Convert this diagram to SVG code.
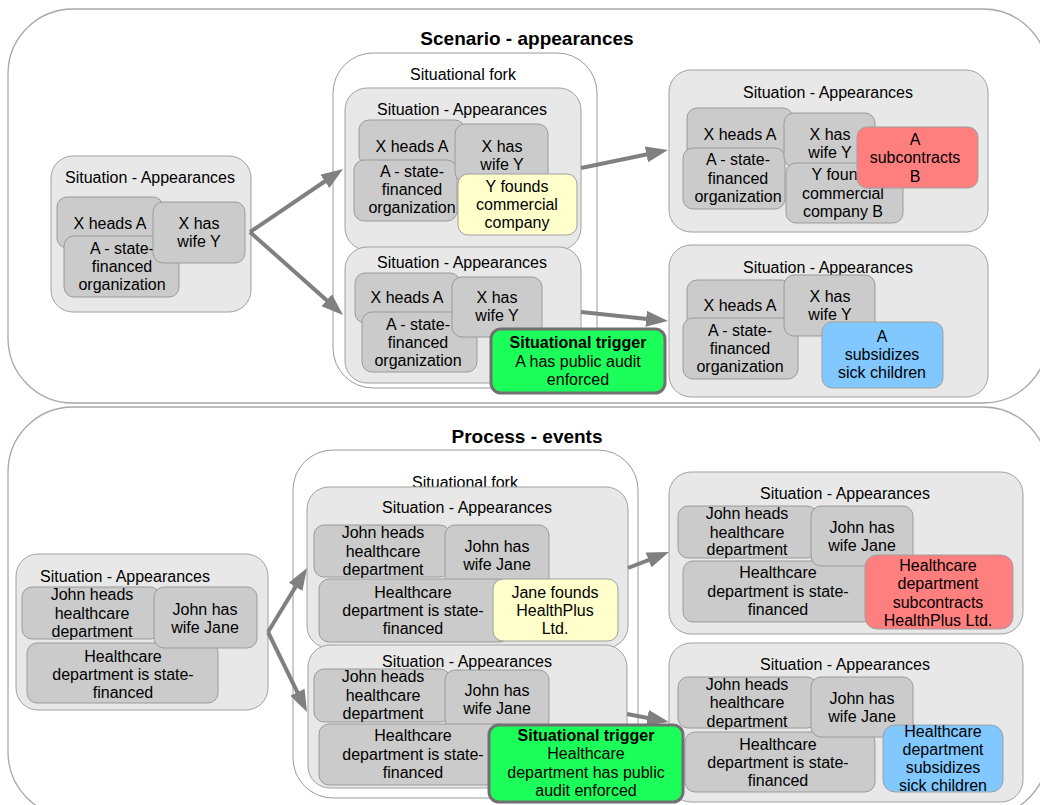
<svg xmlns="http://www.w3.org/2000/svg" width="1040" height="805" viewBox="0 0 1040 805">
<defs>
<style>
.big{fill:#fff;stroke:#a8a8a8;stroke-width:1.3}
.fork{fill:#fff;stroke:#9a9a9a;stroke-width:1}
.sit{fill:#e8e8e8;stroke:#a0a0a0;stroke-width:1}
.fact{fill:#cbcbcb;stroke:#9a9a9a;stroke-width:1}
.yel{fill:#ffffcc;stroke:#a0a0a0;stroke-width:1}
.red{fill:#ff7f7f;stroke:#a0a0a0;stroke-width:1}
.blue{fill:#80c8ff;stroke:#a0a0a0;stroke-width:1}
.trig{fill:#1cff5a;stroke:#707070;stroke-width:3}
.conn line{stroke:#808080;stroke-width:4;marker-end:url(#ah)}
text{font-family:"Liberation Sans",Arial,Helvetica,sans-serif;font-size:16px;fill:#000;text-anchor:middle}
.title{font-weight:bold;font-size:19px}
.b{font-weight:bold}
</style>
<marker id="ah" markerWidth="22" markerHeight="16" refX="6" refY="8" orient="auto" markerUnits="userSpaceOnUse">
<path d="M0,0 L22,8 L0,16 Z" fill="#808080"/>
</marker>
</defs>

<!-- Top container -->
<g id="scenario">
<rect class="big" x="8" y="9" width="1040" height="394" rx="65"/>
<text class="title" x="527" y="45">Scenario - appearances</text>
</g>
<!-- Bottom container -->
<g id="process">
<rect class="big" x="8" y="407" width="1040" height="410" rx="65"/>
<text class="title" x="527" y="443">Process - events</text>
</g>

<!-- TOP: left situation -->
<g id="s-left">
<rect class="sit" x="51" y="156" width="200" height="156" rx="22"/>
<text x="150" y="183">Situation - Appearances</text>
<rect class="fact" x="57" y="197" width="106" height="51" rx="10"/>
<text x="110" y="229">X heads A</text>
<rect class="fact" x="64" y="236" width="115" height="61" rx="10"/>
<text x="122" y="254">A - state-</text>
<text x="122" y="272">financed</text>
<text x="122" y="290">organization</text>
<rect class="fact" x="153" y="202" width="92" height="61" rx="10"/>
<text x="199" y="229">X has</text>
<text x="199" y="247">wife Y</text>
</g>

<!-- TOP: fork -->
<g id="fork-top">
<rect class="fork" x="333" y="53" width="264" height="335" rx="40"/>
<text x="463" y="80">Situational fork</text>
</g>
<g id="s-fork-top-1">
<rect class="sit" x="345" y="88" width="236" height="162" rx="22"/>
<text x="462" y="115">Situation - Appearances</text>
<rect class="fact" x="359" y="120" width="106" height="45" rx="10"/>
<text x="412" y="152">X heads A</text>
<rect class="fact" x="354" y="160" width="103" height="61" rx="10"/>
<text x="412" y="177">A - state-</text>
<text x="412" y="195">financed</text>
<text x="412" y="213">organization</text>
<rect class="fact" x="455" y="124" width="93" height="58" rx="10"/>
<text x="502" y="152">X has</text>
<text x="502" y="170">wife Y</text>
<rect class="yel" x="458" y="174" width="119" height="61" rx="10"/>
<text x="517" y="192">Y founds</text>
<text x="517" y="210">commercial</text>
<text x="517" y="228">company</text>
</g>
<g id="s-fork-top-2">
<rect class="sit" x="345" y="247" width="236" height="136" rx="22"/>
<text x="462" y="268">Situation - Appearances</text>
<rect class="fact" x="355" y="273" width="105" height="50" rx="10"/>
<text x="407" y="303">X heads A</text>
<rect class="fact" x="362" y="312" width="115" height="60" rx="10"/>
<text x="418" y="330">A - state-</text>
<text x="418" y="348">financed</text>
<text x="418" y="366">organization</text>
<rect class="fact" x="452" y="277" width="90" height="60" rx="10"/>
<text x="497" y="303">X has</text>
<text x="497" y="321">wife Y</text>
</g>

<!-- TOP: right situations -->
<g id="s-right-top-1">
<rect class="sit" x="669" y="70" width="319" height="162" rx="22"/>
<text x="828" y="98">Situation - Appearances</text>
<rect class="fact" x="687" y="108" width="106" height="52" rx="10"/>
<text x="740" y="140">X heads A</text>
<rect class="fact" x="683" y="148" width="102" height="61" rx="10"/>
<text x="738" y="165">A - state-</text>
<text x="738" y="184">financed</text>
<text x="738" y="202">organization</text>
<rect class="fact" x="784" y="113" width="91" height="54" rx="10"/>
<text x="830" y="140">X has</text>
<text x="830" y="158">wife Y</text>
<rect class="fact" x="786" y="163" width="117" height="60" rx="10"/>
<text x="843" y="180">Y founds</text>
<text x="843" y="199">commercial</text>
<text x="843" y="217">company B</text>
<rect class="red" x="857" y="127" width="121" height="61" rx="10"/>
<text x="915" y="145">A</text>
<text x="915" y="163">subcontracts</text>
<text x="915" y="182">B</text>
</g>
<g id="s-right-top-2">
<rect class="sit" x="669" y="245" width="319" height="152" rx="22"/>
<text x="828" y="273">Situation - Appearances</text>
<rect class="fact" x="687" y="280" width="105" height="50" rx="10"/>
<text x="740" y="311">X heads A</text>
<rect class="fact" x="683" y="318" width="115" height="61" rx="10"/>
<text x="740" y="336">A - state-</text>
<text x="740" y="354">financed</text>
<text x="740" y="372">organization</text>
<rect class="fact" x="784" y="275" width="91" height="61" rx="10"/>
<text x="830" y="302">X has</text>
<text x="830" y="320">wife Y</text>
<rect class="blue" x="822" y="322" width="121" height="66" rx="10"/>
<text x="882" y="342">A</text>
<text x="882" y="360">subsidizes</text>
<text x="882" y="378">sick children</text>
</g>

<!-- BOTTOM: left situation -->
<g id="p-left">
<rect class="sit" x="16" y="554" width="252" height="156" rx="22"/>
<text x="125" y="582">Situation - Appearances</text>
<rect class="fact" x="22" y="587" width="138" height="52" rx="10"/>
<text x="92" y="600">John heads</text>
<text x="92" y="619">healthcare</text>
<text x="92" y="637">department</text>
<rect class="fact" x="27" y="643" width="191" height="60" rx="10"/>
<text x="123" y="662">Healthcare</text>
<text x="123" y="680">department is state-</text>
<text x="123" y="698">financed</text>
<rect class="fact" x="154" y="587" width="103" height="61" rx="10"/>
<text x="205" y="615">John has</text>
<text x="205" y="633">wife Jane</text>
</g>

<!-- BOTTOM: fork -->
<g id="fork-bottom">
<rect class="fork" x="293" y="450" width="345" height="348" rx="40"/>
<text x="465" y="488">Situational fork</text>
</g>
<g id="p-fork-1">
<rect class="sit" x="307" y="487" width="321" height="161" rx="22"/>
<text x="467" y="513">Situation - Appearances</text>
<rect class="fact" x="314" y="525" width="136" height="52" rx="10"/>
<text x="383" y="538">John heads</text>
<text x="383" y="557">healthcare</text>
<text x="383" y="575">department</text>
<rect class="fact" x="445" y="525" width="104" height="62" rx="10"/>
<text x="497" y="552">John has</text>
<text x="497" y="570">wife Jane</text>
<rect class="fact" x="319" y="579" width="191" height="63" rx="10"/>
<text x="413" y="598">Healthcare</text>
<text x="413" y="616">department is state-</text>
<text x="413" y="634">financed</text>
<rect class="yel" x="493" y="579" width="125" height="62" rx="10"/>
<text x="555" y="598">Jane founds</text>
<text x="555" y="616">HealthPlus</text>
<text x="555" y="634">Ltd.</text>
</g>
<g id="p-fork-2">
<rect class="sit" x="308" y="645" width="319" height="143" rx="22"/>
<text x="467" y="667">Situation - Appearances</text>
<rect class="fact" x="314" y="669" width="136" height="53" rx="10"/>
<text x="383" y="682">John heads</text>
<text x="383" y="701">healthcare</text>
<text x="383" y="719">department</text>
<rect class="fact" x="445" y="670" width="104" height="60" rx="10"/>
<text x="497" y="696">John has</text>
<text x="497" y="714">wife Jane</text>
<rect class="fact" x="319" y="724" width="191" height="61" rx="10"/>
<text x="413" y="741">Healthcare</text>
<text x="413" y="760">department is state-</text>
<text x="413" y="778">financed</text>
</g>

<!-- BOTTOM: right situations -->
<g id="p-right-1">
<rect class="sit" x="669" y="472" width="354" height="162" rx="22"/>
<text x="845" y="499">Situation - Appearances</text>
<rect class="fact" x="678" y="506" width="139" height="52" rx="10"/>
<text x="747" y="519">John heads</text>
<text x="747" y="538">healthcare</text>
<text x="747" y="555">department</text>
<rect class="fact" x="683" y="561" width="190" height="61" rx="10"/>
<text x="778" y="578">Healthcare</text>
<text x="778" y="597">department is state-</text>
<text x="778" y="615">financed</text>
<rect class="fact" x="811" y="506" width="102" height="60" rx="10"/>
<text x="862" y="533">John has</text>
<text x="862" y="551">wife Jane</text>
<rect class="red" x="865" y="555" width="148" height="74" rx="12"/>
<text x="938" y="571">Healthcare</text>
<text x="938" y="589">department</text>
<text x="938" y="608">subcontracts</text>
<text x="938" y="626">HealthPlus Ltd.</text>
</g>
<g id="p-right-2">
<rect class="sit" x="669" y="643" width="354" height="159" rx="22"/>
<text x="845" y="670">Situation - Appearances</text>
<rect class="fact" x="678" y="677" width="139" height="51" rx="10"/>
<text x="747" y="690">John heads</text>
<text x="747" y="708">healthcare</text>
<text x="747" y="727">department</text>
<rect class="fact" x="685" y="732" width="190" height="60" rx="10"/>
<text x="778" y="750">Healthcare</text>
<text x="778" y="768">department is state-</text>
<text x="778" y="786">financed</text>
<rect class="fact" x="811" y="677" width="102" height="60" rx="10"/>
<text x="862" y="704">John has</text>
<text x="862" y="722">wife Jane</text>
<rect class="blue" x="883" y="725" width="120" height="67" rx="12"/>
<text x="943" y="737">Healthcare</text>
<text x="943" y="755">department</text>
<text x="943" y="773">subsidizes</text>
<text x="943" y="791">sick children</text>
</g>

<!-- Connectors -->
<g id="connectors" class="conn">
<line x1="250" y1="232" x2="329.8" y2="178"/>
<line x1="250" y1="232" x2="331.1" y2="304.3"/>
<line x1="581" y1="168" x2="652.3" y2="153.2"/>
<line x1="581" y1="312" x2="652.1" y2="319.4"/>
<line x1="268" y1="632" x2="298.7" y2="581.7"/>
<line x1="268" y1="632" x2="300" y2="697.6"/>
<line x1="628" y1="568" x2="654.1" y2="557.8"/>
<line x1="627" y1="714" x2="653.3" y2="719"/>
</g>

<!-- Triggers -->
<g id="trigger-top">
<rect class="trig" x="491" y="329" width="174" height="64" rx="10"/>
<text class="b" x="578" y="348">Situational trigger</text>
<text x="578" y="367">A has public audit</text>
<text x="578" y="385">enforced</text>
</g>
<g id="trigger-bottom">
<rect class="trig" x="489" y="725" width="194" height="77" rx="10"/>
<text class="b" x="586" y="741">Situational trigger</text>
<text x="586" y="759">Healthcare</text>
<text x="586" y="778">department has public</text>
<text x="586" y="796">audit enforced</text>
</g>
</svg>
